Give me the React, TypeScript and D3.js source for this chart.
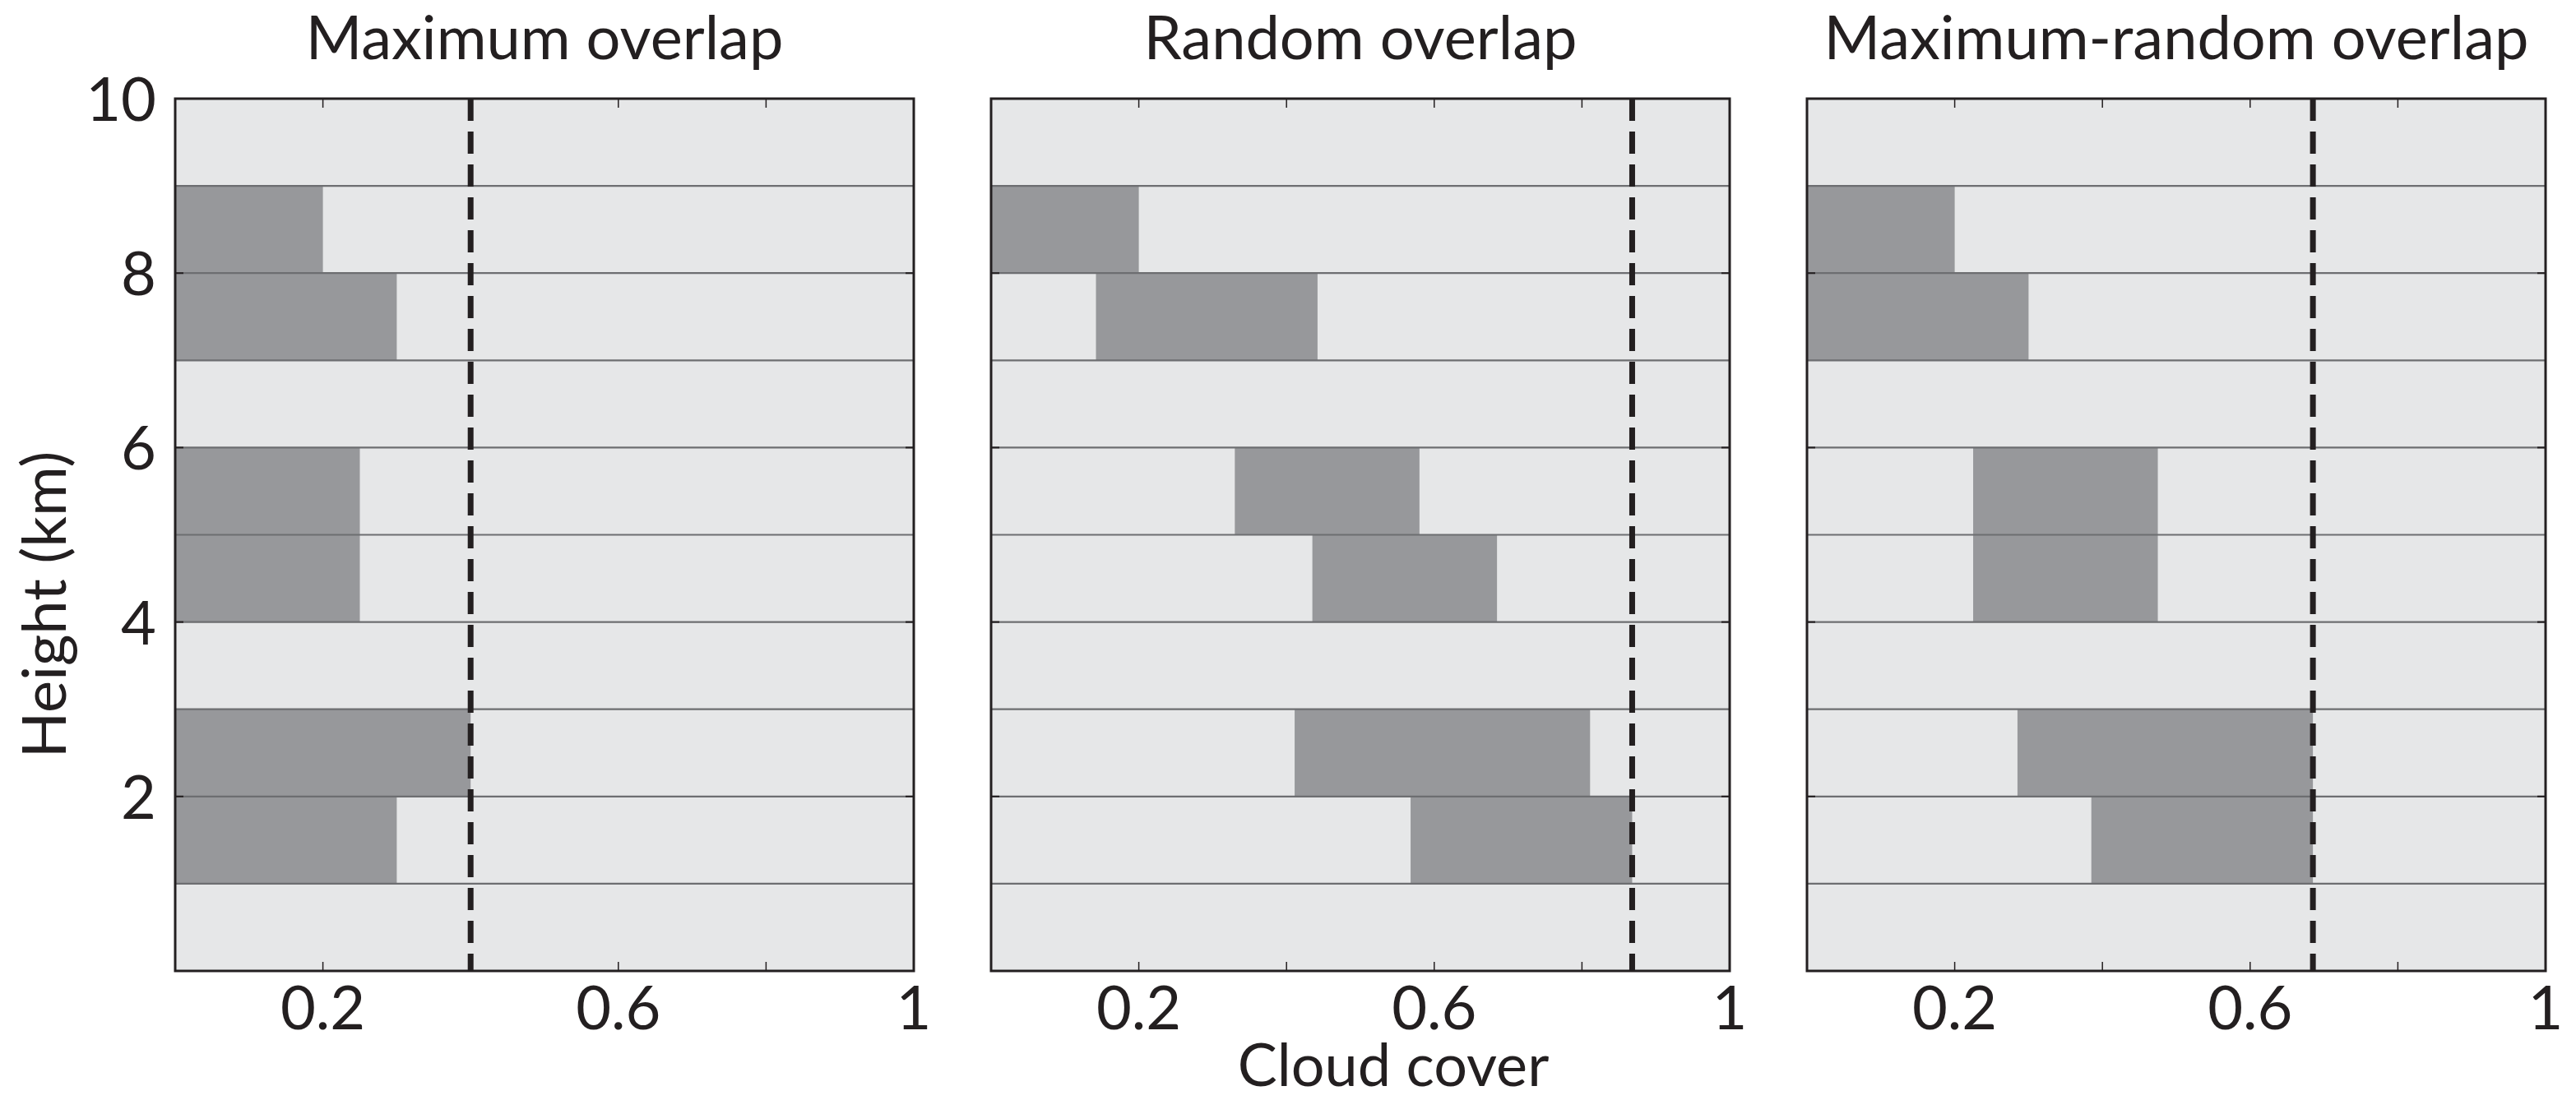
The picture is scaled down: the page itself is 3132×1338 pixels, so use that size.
import React from 'react';
import * as d3 from 'd3';

const W = 3132;
const H = 1338;

// layers: lower edge of each 1 km cloud layer
const layerBase = [8, 7, 5, 4, 2, 1];

// bar extents (cloud cover) for each panel
const maxStart = [0, 0, 0, 0, 0, 0];
const maxEnd = [0.2, 0.3, 0.25, 0.25, 0.4, 0.3];
const randStart = [0, 0.142, 0.33, 0.435, 0.411, 0.568];
const randEnd = [0.2, 0.442, 0.58, 0.685, 0.811, 0.868];
const mrStart = [0, 0, 0.225, 0.225, 0.285, 0.385];
const mrEnd = [0.2, 0.3, 0.475, 0.475, 0.685, 0.685];

// total cover (dashed line)
const totals = [0.4, 0.868, 0.685];
const titles = ['Maximum overlap', 'Random overlap', 'Maximum-random overlap'];

const yTicks = [2, 4, 6, 8, 10];
const rowLines = [1, 2, 3, 4, 5, 6, 7, 8, 9];
const xMinor = [0.2, 0.4, 0.6, 0.8];
const xLabels = [0.2, 0.6, 1];

const panels = [
  { left: 213, start: maxStart, end: maxEnd },
  { left: 1205, start: randStart, end: randEnd },
  { left: 2197, start: mrStart, end: mrEnd },
];
const pw = 898;
const top = 120;
const bottom = 1181;

const ink = '#231f20';
const font = 'Lato, "Open Sans", sans-serif';
const fs = 74;

const y = d3.scaleLinear().domain([0, 10]).range([bottom, top]);

const App: React.FC = () => {
  return (
    <svg
      width={W}
      height={H}
      style={{ position: 'absolute', top: 0, left: 0, background: '#fff' }}
      fontFamily={font}
    >
      {panels.map((p, pi) => {
        const x = d3.scaleLinear().domain([0, 1]).range([p.left, p.left + pw]);
        return (
          <g key={pi}>
            <rect x={x(0)} y={top} width={pw} height={bottom - top} fill="#e6e7e8" />
            {layerBase.map((b, i) => (
              <rect
                key={i}
                x={x(p.start[i])}
                y={y(b + 1)}
                width={x(p.end[i]) - x(p.start[i])}
                height={y(b) - y(b + 1)}
                fill="#97989b"
              />
            ))}
            {rowLines.map(v => (
              <line key={v} x1={x(0)} x2={x(1)} y1={y(v)} y2={y(v)} stroke="#6d6e71" strokeWidth={2.2} />
            ))}
            {xMinor.map(v => (
              <g key={v}>
                <line x1={x(v)} x2={x(v)} y1={top} y2={top + 11} stroke={ink} strokeWidth={1.5} />
                <line x1={x(v)} x2={x(v)} y1={bottom} y2={bottom - 11} stroke={ink} strokeWidth={1.5} />
              </g>
            ))}
            {yTicks.slice(0, 4).map(v => (
              <g key={v}>
                <line x1={x(0)} x2={x(0) + 10} y1={y(v)} y2={y(v)} stroke={ink} strokeWidth={2} />
                <line x1={x(1)} x2={x(1) - 10} y1={y(v)} y2={y(v)} stroke={ink} strokeWidth={2} />
              </g>
            ))}
            <line
              x1={x(totals[pi])}
              x2={x(totals[pi])}
              y1={top}
              y2={bottom}
              stroke={ink}
              strokeWidth={7}
              strokeDasharray="27 13"
            />
            <rect
              x={x(0)}
              y={top}
              width={pw}
              height={bottom - top}
              fill="none"
              stroke={ink}
              strokeWidth={3}
            />
            {xLabels.map(v => (
              <text key={v} x={x(v)} y={1252} textAnchor="middle" fontSize={fs} fill={ink}>
                {v}
              </text>
            ))}
            <text x={x(0.5)} y={72} textAnchor="middle" fontSize={fs} fill={ink}>
              {titles[pi]}
            </text>
          </g>
        );
      })}
      {yTicks.map(v => (
        <text key={v} x={190} y={y(v) + 27} textAnchor="end" fontSize={fs} fill={ink}>
          {v}
        </text>
      ))}
      <text
        transform={`translate(80,${(top + bottom) / 2 + 85}) rotate(-90)`}
        textAnchor="middle"
        fontSize={fs}
        fill={ink}
      >
        Height (km)
      </text>
      <text x={1694} y={1321} textAnchor="middle" fontSize={72} fill={ink}>
        Cloud cover
      </text>
    </svg>
  );
};

export default App;
